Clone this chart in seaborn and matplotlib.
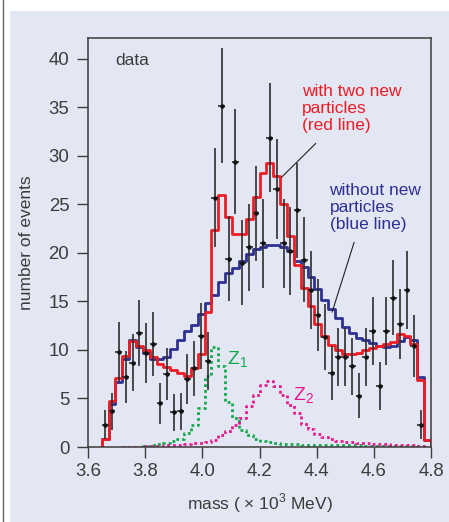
import numpy as np
import pandas as pd
import matplotlib
matplotlib.use("Agg")
import matplotlib.pyplot as plt
import seaborn as sns
from matplotlib.patches import Rectangle
from matplotlib.lines import Line2D

# binning of the mass spectrum (x 10^3 MeV): 50 bins of 0.024 from 3.6
bin_lo = 3.6
bin_w = 0.024

# measured points, bins 2..48
data_first = 2
data_y = [2.3, 3.7, 9.8, 7.2, 8.7, 11.8, 9.7, 10.6, 4.5, 7.5, 3.6, 3.7, 7.0, 8.1,
          11.4, 8.9, 25.7, 35.2, 19.4, 29.4, 19.0, 20.6, 24.1, 21.0, 31.9, 26.6,
          21.0, 20.2, 24.4, 19.3, 16.2, 13.6, 11.3, 7.6, 9.3, 9.3, 8.3, 5.3, 9.3,
          12.0, 6.3, 12.0, 15.4, 12.7, 16.2, 10.4, 2.3]
data_err = [1.5, 1.9, 3.1, 2.7, 2.9, 3.4, 3.1, 3.3, 2.1, 2.7, 1.9, 1.9, 2.6, 2.8,
            3.4, 3.0, 5.1, 5.9, 4.4, 5.4, 4.4, 4.5, 4.9, 4.6, 5.6, 5.2,
            4.6, 4.5, 4.9, 4.4, 4.0, 3.7, 3.4, 2.8, 3.0, 3.0, 2.9, 2.3, 3.0,
            3.5, 2.5, 3.5, 3.9, 3.6, 4.0, 3.2, 1.5]

# fit without new particles (blue), bins 2..49
fit_first = 2
blue_y = [0.8, 4.4, 6.7, 9.1, 11.0, 10.3, 9.7, 9.1, 9.1, 9.3, 10.1, 11.0, 12.0,
          12.6, 13.7, 14.8, 15.7, 17.0, 17.9, 18.4, 19.2, 19.9, 20.4, 20.6, 20.8,
          20.8, 20.6, 20.2, 19.2, 18.6, 17.5, 16.3, 15.2, 14.2, 13.3, 12.4, 11.8,
          11.2, 11.0, 10.7, 10.4, 10.3, 10.4, 10.9, 11.3, 11.0, 7.2, 0.7]
# fit with two new particles (red), bins 2..49
red_y = [0.8, 4.7, 7.1, 9.4, 10.9, 10.4, 10.0, 9.3, 8.6, 8.2, 7.9, 7.6, 7.3,
         8.1, 9.6, 13.9, 22.4, 26.0, 23.7, 22.0, 22.0, 23.5, 25.8, 28.2, 29.3,
         27.9, 25.1, 21.8, 18.8, 16.4, 14.5, 12.7, 11.4, 10.5, 10.0, 9.6, 9.6,
         9.7, 10.0, 10.2, 10.4, 10.6, 10.8, 11.6, 11.4, 10.6, 6.9, 0.7]

# Z1 component, bins 8..48
z1_first = 8
z1_y = [0.1, 0.2, 0.3, 0.4, 0.6, 0.8, 1.4, 2.3, 4.0, 7.3, 10.3, 8.4, 4.6, 3.0,
        1.8, 1.2, 0.8, 0.6, 0.5, 0.4, 0.35, 0.3, 0.3, 0.25, 0.25, 0.25, 0.2,
        0.2, 0.2, 0.2, 0.2, 0.2, 0.15, 0.15, 0.15, 0.15, 0.15, 0.15, 0.15,
        0.15, 0.15]
# Z2 component, bins 5..48
z2_first = 5
z2_y = [0.05, 0.05, 0.05, 0.1, 0.1, 0.15, 0.2, 0.2, 0.25, 0.35, 0.4, 0.45,
        0.5, 0.75, 1.2, 1.6, 2.3, 3.0, 4.2, 5.4, 6.4, 6.8, 6.3, 5.4, 4.3, 3.5,
        2.4, 1.9, 1.3, 1.0, 0.8, 0.65, 0.55, 0.5, 0.45, 0.4, 0.35, 0.3, 0.3,
        0.25, 0.25, 0.2, 0.2, 0.15]

xticks = [3.6, 3.8, 4.0, 4.2, 4.4, 4.6, 4.8]
yticks = [0, 5, 10, 15, 20, 25, 30, 35, 40]

panel = "#e3e7f3"
red = "#ee1c25"
navy = "#2e3192"
green = "#12a84e"
magenta = "#e8178a"
ink = "#3c3c3c"


def steps(first, vals):
    edges = bin_lo + bin_w * np.arange(first, first + len(vals) + 1)
    x = np.r_[edges[0], edges]
    y = np.r_[0, vals, 0]
    return pd.DataFrame({"mass": x, "events": y})


sns.set_theme(style="ticks")
plt.rcParams["font.family"] = ["Liberation Sans", "DejaVu Sans"]
plt.rcParams["mathtext.fontset"] = "custom"
plt.rcParams["mathtext.rm"] = "Liberation Sans"

fig = plt.figure(figsize=(4.49, 5.22), dpi=100)
fig.patch.set_facecolor("white")
fig.add_artist(Rectangle((10 / 449, 0), 1, 1 - 11 / 522, transform=fig.transFigure,
                         facecolor=panel, edgecolor="none", zorder=0))
fig.add_artist(Line2D([2.5 / 449, 2.5 / 449], [0, 1], transform=fig.transFigure,
                      color="#666666", lw=1.0))

ax = fig.add_axes([88 / 449, 1 - 447 / 522, 343 / 449, 409 / 522])
ax.set_facecolor("none")

# dotted component curves
for first, vals, col in [(z1_first, z1_y, green), (z2_first, z2_y, magenta)]:
    sns.lineplot(data=steps(first, vals), x="mass", y="events", estimator=None,
                 sort=False, drawstyle="steps-post", color=col, lw=2.0,
                 linestyle=(0, (1.0, 1.1)), dash_capstyle="butt", legend=False, ax=ax)

sns.lineplot(data=steps(fit_first, blue_y), x="mass", y="events", estimator=None,
             sort=False, drawstyle="steps-post", color=navy, lw=2.0, legend=False, ax=ax)
sns.lineplot(data=steps(fit_first, red_y), x="mass", y="events", estimator=None,
             sort=False, drawstyle="steps-post", color=red, lw=2.0, legend=False, ax=ax)

centers = bin_lo + bin_w * (np.arange(len(data_y)) + data_first + 0.5)
ax.errorbar(centers, data_y, yerr=data_err, xerr=0.012, fmt="o", ms=2.2,
            color="#111111", ecolor="#2e2e2e", elinewidth=1.2, capsize=0, zorder=5)

# annotations
ax.text(3.695, 39.8, "data", color=ink, fontsize=12.5, ha="left", va="center")
ax.text(4.349, 34.9, "with two new\nparticles\n(red line)", color=red, fontsize=12.5,
        ha="left", va="center", linespacing=1.15)
ax.text(4.445, 24.7, "without new\nparticles\n(blue line)", color=navy, fontsize=12.5,
        ha="left", va="center", linespacing=1.15)
ax.plot([4.277, 4.397], [27.8, 31.3], color="#222222", lw=0.8)
ax.plot([4.454, 4.531], [13.9, 21.1], color="#222222", lw=0.8)
ax.text(4.088, 9.0, "Z$_1$", color=green, fontsize=14, ha="left", va="center")
ax.text(4.318, 5.3, "Z$_2$", color=magenta, fontsize=14, ha="left", va="center")

ax.set_xlim(3.6, 4.8)
ax.set_ylim(0, 42.16)
ax.set_xticks(xticks)
ax.set_xticklabels([f"{t:.1f}" for t in xticks])
ax.set_yticks(yticks)
ax.tick_params(axis="both", direction="out", length=8, width=1.0, color=ink,
               labelcolor=ink, labelsize=13.4)
ax.tick_params(axis="x", pad=3.5)
ax.tick_params(axis="y", pad=5.5)
for s in ax.spines.values():
    s.set_visible(True)
    s.set_color(ink)
    s.set_linewidth(1.1)

ax.set_xlabel("mass ( × 10$^3$ MeV)", fontsize=12.5, color=ink, labelpad=8)
ax.set_ylabel("number of events", fontsize=12.5, color=ink, labelpad=10)

fig.savefig("out.png", dpi=100)
